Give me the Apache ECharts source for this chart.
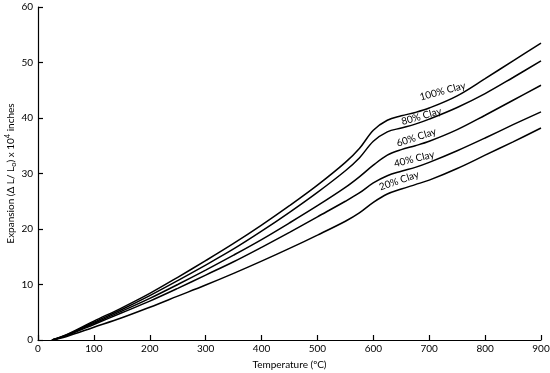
<!DOCTYPE html>
<html>
<head>
<meta charset="utf-8">
<script src="https://cdn.jsdelivr.net/npm/echarts@6/dist/echarts.min.js"></script>
<style>html,body{margin:0;padding:0;background:#fff}#c{width:550px;height:373px}</style>
</head>
<body>
<div id="c"></div>
<script>
// Temperature (°C)
var temps = [25, 50, 100, 150, 200, 250, 300, 350, 400, 450, 500, 550, 575, 600, 625, 650, 675, 700, 750, 800, 850, 900];
// Expansion (ΔL/L0) x 10^4 inches
var clay100 = [0, 0.9, 3.4, 5.8, 8.4, 11.3, 14.3, 17.4, 20.7, 24.2, 27.9, 32.0, 34.5, 37.8, 39.6, 40.4, 41.0, 41.8, 44.0, 47.1, 50.3, 53.5];
var clay80  = [0, 0.85, 3.2, 5.5, 8.0, 10.7, 13.5, 16.4, 19.6, 23.0, 26.6, 30.5, 32.8, 35.8, 37.5, 38.2, 38.9, 39.8, 41.9, 44.4, 47.3, 50.3];
var clay60  = [0, 0.8, 3.0, 5.2, 7.5, 10.0, 12.6, 15.3, 18.1, 21.1, 24.2, 27.5, 29.4, 31.5, 33.3, 34.3, 35.0, 35.8, 37.9, 40.5, 43.2, 45.9];
var clay40  = [0, 0.75, 2.8, 4.9, 7.0, 9.3, 11.7, 14.1, 16.7, 19.4, 22.2, 25.0, 26.5, 28.3, 29.6, 30.4, 31.1, 32.0, 34.1, 36.4, 38.8, 41.1];
var clay20  = [0, 0.6, 2.3, 4.0, 5.9, 7.9, 9.9, 12.0, 14.2, 16.5, 18.9, 21.4, 22.9, 24.8, 26.3, 27.2, 28.0, 28.8, 30.9, 33.3, 35.7, 38.2];
var seriesNames = ['100% Clay', '80% Clay', '60% Clay', '40% Clay', '20% Clay'];
var seriesData = [clay100, clay80, clay60, clay40, clay20];
// label anchor in data space [temperature, expansion] and text angle (deg)
var labelAnchors = [[724, 44.8], [686, 40.3], [677, 36.5], [673, 32.6], [646, 28.7]];
var labelAngles = [15, 16, 18, 14, 19];
var xTicks = [0, 100, 200, 300, 400, 500, 600, 700, 800, 900];
var yTicks = [0, 10, 20, 30, 40, 50, 60];

var FONT = 'Lato, "DejaVu Sans", sans-serif';
function pairs(arr) { return temps.map(function (t, i) { return [t, arr[i]]; }); }

var chart = echarts.init(document.getElementById('c'), null, {renderer: 'canvas'});
var option = {
  animation: false,
  backgroundColor: '#fff',
  grid: {left: 38, right: 9, top: 7, bottom: 33, containLabel: false, outerBoundsMode: 'none'},
  xAxis: {
    type: 'value', min: 0, max: 900, interval: 100,
    name: 'Temperature (ºC)', nameLocation: 'middle', nameGap: 20, nameMoveOverlap: false,
    nameTextStyle: {fontFamily: FONT, fontSize: 10, color: '#000'},
    axisLine: {show: true, lineStyle: {color: '#000', width: 1.2}},
    axisTick: {show: true, inside: true, length: 5, lineStyle: {color: '#000', width: 1.2}},
    axisLabel: {fontFamily: FONT, fontSize: 10, color: '#000', margin: 4},
    splitLine: {show: false}
  },
  yAxis: {
    type: 'value', min: 0, max: 60, interval: 10,
    name: '{a|Expansion (Δ L/ L}{sub|o}{a|) x 10}{sup|4}{a| inches}',
    nameLocation: 'middle', nameGap: 20, nameRotate: 90, nameMoveOverlap: false,
    nameTextStyle: {
      fontFamily: FONT, fontSize: 10, color: '#000',
      rich: {
        a: {fontFamily: FONT, fontSize: 10, color: '#000', lineHeight: 14},
        sub: {fontFamily: FONT, fontSize: 7.5, color: '#000', verticalAlign: 'bottom', lineHeight: 14, padding: [6, 0, 0, 0]},
        sup: {fontFamily: FONT, fontSize: 7.5, color: '#000', verticalAlign: 'top', lineHeight: 14, padding: [0, 0, 6, 0]}
      }
    },
    axisLine: {show: true, lineStyle: {color: '#000', width: 1.2}},
    axisTick: {show: true, inside: true, length: 5, lineStyle: {color: '#000', width: 1.2}},
    axisLabel: {fontFamily: FONT, fontSize: 10, color: '#000', margin: 5},
    splitLine: {show: false}
  },
  series: seriesData.map(function (d, i) {
    return {
      name: seriesNames[i], type: 'line', data: pairs(d), smooth: 0.35,
      showSymbol: false, symbol: 'none',
      lineStyle: {color: '#000', width: 1.5}
    };
  })
};
chart.setOption(option);

var g = labelAnchors.map(function (p, i) {
  var px = chart.convertToPixel({gridIndex: 0}, p);
  return {
    type: 'text', x: px[0], y: px[1], rotation: labelAngles[i] * Math.PI / 180,
    style: {text: seriesNames[i], fontFamily: FONT, fontSize: 10, fill: '#000', align: 'center', verticalAlign: 'middle'}
  };
});
chart.setOption({graphic: g});
</script>
</body>
</html>
